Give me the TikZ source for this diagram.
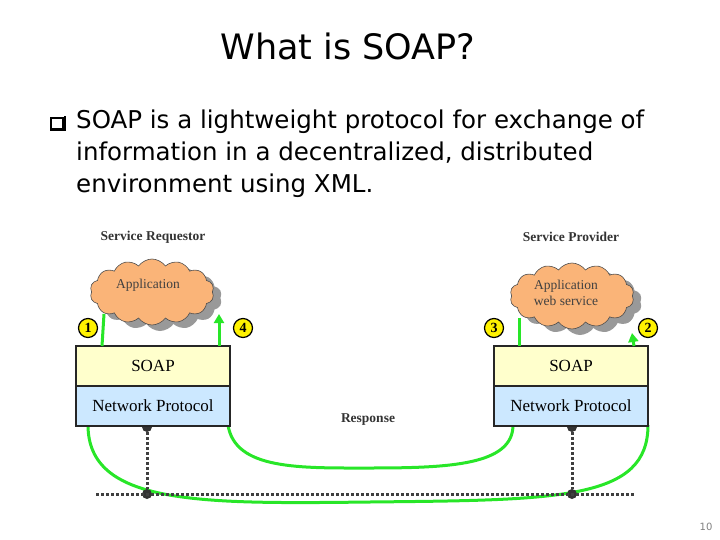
\documentclass[tikz,border=0pt]{standalone}
\usepackage{fontspec}
\setmainfont{DejaVu Sans}
\newfontfamily\serifb{Liberation Serif}
\usetikzlibrary{shapes.symbols,arrows.meta}
\definecolor{gr}{RGB}{40,230,40}
\definecolor{soapc}{RGB}{255,255,204}
\definecolor{netc}{RGB}{204,232,255}
\definecolor{cloudc}{RGB}{250,180,120}
\tikzset{
 layer/.style={draw=black!85,line width=1.6pt,minimum width=154pt,minimum height=40pt,inner sep=0pt,font=\serifb\fontsize{17}{17}\selectfont},
 cl/.style={cloud,cloud puffs=14,cloud puff arc=110,aspect=1.8,minimum width=124pt,minimum height=66pt,fill=cloudc,draw=black!70,line width=0.6pt},
 cltext/.style={align=center,inner sep=0pt,font=\serifb\fontsize{13.5}{16}\selectfont,text=black!75},
 shd/.style={cloud,cloud puffs=14,cloud puff arc=110,aspect=1.8,minimum width=124pt,minimum height=66pt,fill=black!40},
 badge/.style={circle,fill=yellow,draw=black,line width=1.2pt,inner sep=0pt,minimum size=19pt,font=\serifb\bfseries\fontsize{14}{14}\selectfont},
 gl/.style={gr,line width=3pt},
 dl/.style={black!75,line width=3pt,dash pattern=on 3pt off 2pt},
 dot/.style={circle,fill=black!80,inner sep=0pt,minimum size=10pt},
 hdr/.style={font=\serifb\bfseries\fontsize{13.5}{13.5}\selectfont,text=black!80}
}
\begin{document}
\begin{tikzpicture}[x=1pt,y=-1pt]
\useasboundingbox (0,0) rectangle (720,540);
\node[font=\fontsize{35}{35}\selectfont] (t) at (348,46) {What is SOAP?};
\node[draw=black,line width=1.2pt,minimum size=12pt,inner sep=0pt,fill=white] (b) at (57,124) {};
\draw[line width=2.2pt] (b.north east) ++(1pt,1pt) |- ([shift={(1pt,1pt)}]b.south west);
\node[anchor=north west,align=left,inner sep=0pt,font=\fontsize{24.5}{32}\selectfont] (txt) at (76,110) {SOAP is a lightweight protocol for exchange of\\information in a decentralized, distributed\\environment using XML.};
\node[hdr] (h1) at (153,237) {Service Requestor};
\node[hdr] (h2) at (571,237) {Service Provider};
% clouds
\node[shd] (s1) at (160,298) {};
\node[cl] (c1) at (152,292) {};
\node[cltext] (c1t) at (148,285) {Application};
\node[shd] (s2) at (580,302) {};
\node[cl] (c2) at (572,296) {};
\node[cltext] (c2t) at (566,293) {Application\\web service};
% green curves (behind boxes)
\coordinate (o1) at (88,425); \coordinate (o2) at (648,425);
\coordinate (i1) at (228,425); \coordinate (i2) at (513,425);
\draw[gl] (o1) .. controls (88,505) and (200,504) .. (370,502) .. controls (560,500) and (648,500) .. (o2);
\draw[gl] (i1) .. controls (235,470) and (300,468) .. (370,468) .. controls (450,468) and (513,465) .. (i2);
% dotted
\node[dot] (d1) at (147,427) {};
\node[dot] (d2) at (572,427) {};
\node[dot] (e1) at (147,494) {};
\node[dot] (e2) at (572,494) {};
\coordinate (l1) at (96,494); \coordinate (l2) at (634,494);
\draw[dl] (l1) -- (l2);
\draw[dl] (d1) -- (e1);
\draw[dl] (d2) -- (e2);
% boxes
\node[layer,fill=soapc] (sp1) at (153,366) {SOAP};
\node[layer,fill=netc] (np1) at (153,406) {Network Protocol};
\node[layer,fill=soapc] (sp2) at (571,366) {SOAP};
\node[layer,fill=netc] (np2) at (571,406) {Network Protocol};
% arrows
\draw[gl] (102,346) -- (104,314);
\draw[gl,-{Triangle[length=9pt,width=10pt]}] (219,346) -- (219,314);
\draw[gl] (519,346) -- (519,318);
\draw[gl,-{Triangle[length=9pt,width=10pt]}] (634,346) -- (632,333);
\node[badge] (n1) at (88,328) {1};
\node[badge] (n4) at (243,328) {4};
\node[badge] (n3) at (494,328) {3};
\node[badge] (n2) at (648,328) {2};
\node[hdr] (r) at (368,420) {Response};
\node[text=black!50,font=\fontsize{10}{10}\selectfont] (pg) at (706,527) {10};
\end{tikzpicture}
\end{document}
